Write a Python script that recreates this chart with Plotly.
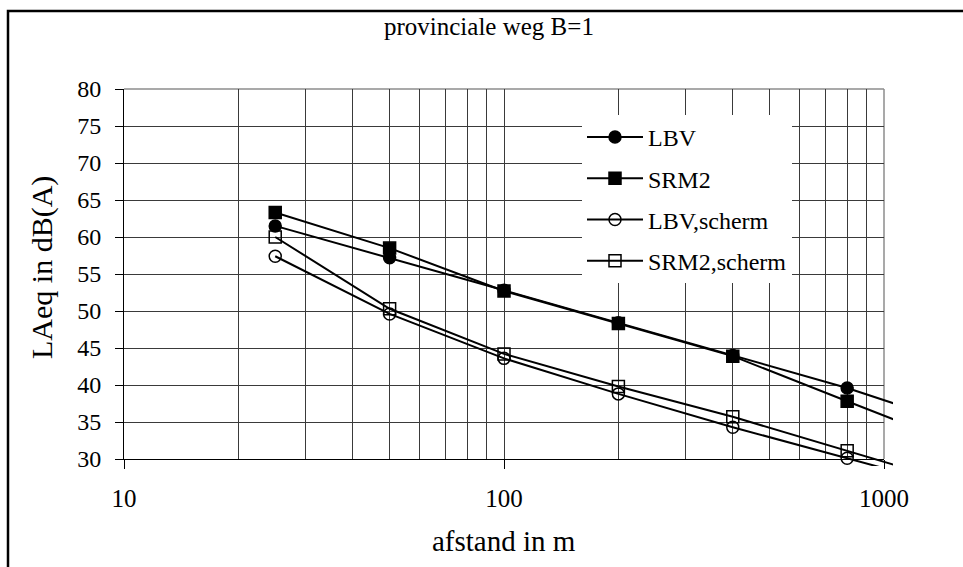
import plotly.graph_objects as go

# ---- data ----
afstand = [25, 50, 100, 200, 400, 800, 1600]
lbv = [61.5, 57.2, 52.8, 48.4, 44.0, 39.6, 34.5]
srm2 = [63.3, 58.5, 52.7, 48.3, 43.9, 37.8, 31.8]
lbv_scherm = [57.4, 49.6, 43.6, 38.8, 34.3, 30.1, 25.9]
srm2_scherm = [60.0, 50.3, 44.2, 39.8, 35.7, 31.1, 26.5]

series_names = ["LBV", "SRM2", "LBV,scherm", "SRM2,scherm"]
series_values = [lbv, srm2, lbv_scherm, srm2_scherm]
series_symbols = ["circle", "square", "circle-open", "square-open"]

y_ticks = [30, 35, 40, 45, 50, 55, 60, 65, 70, 75, 80]
x_ticks = [10, 100, 1000]
x_minor = [20, 30, 40, 50, 60, 70, 80, 90, 200, 300, 400, 500, 600, 700, 800, 900]

title_text = "provinciale weg B=1"
x_title = "afstand in m"
y_title = "LAeq in dB(A)"

# ---- layout geometry (pixels) ----
W, H = 963, 567
PL, PR, PT, PB = 124, 884, 89, 459      # visible plot frame
CR, CB = 893, 466                       # clipping area for the lines (slightly larger)
ML, MR, MT, MB = PL, W - CR, PT, H - CB
pw, ph = CR - ML, CB - MT

px_per_dec = (PR - PL) / 2.0
px_per_db = (PB - PT) / 50.0

FONT = "Liberation Serif"

fig = go.Figure()
# empty trace so that the framed (grid) subplot gets drawn
fig.add_trace(go.Scatter(x=[], y=[], xaxis="x", yaxis="y", showlegend=False,
                         hoverinfo="skip"))
for name, vals, sym in zip(series_names, series_values, series_symbols):
    fig.add_trace(go.Scatter(
        x=afstand, y=vals, name=name, mode="lines+markers",
        xaxis="x2", yaxis="y2", legendgroup=name,
        line=dict(color="black", width=2),
        marker=dict(symbol=sym, size=12, color="black",
                    line=dict(color="black", width=1.5)),
    ))

fig.update_layout(
    width=W, height=H,
    margin=dict(l=ML, r=MR, t=MT, b=MB, autoexpand=False),
    paper_bgcolor="white", plot_bgcolor="rgba(0,0,0,0)",
    font=dict(family=FONT, size=22, color="black"),
    showlegend=True,
    legend=dict(
        x=(582 - ML) / pw, y=(CB - 115) / ph, xanchor="left", yanchor="top",
        bgcolor="white", borderwidth=0, font=dict(family=FONT, size=24),
        tracegroupgap=7, itemwidth=56,
    ),
    xaxis=dict(
        type="log", range=[1, 3], domain=[0, (PR - ML) / pw], anchor="y",
        tickmode="array", tickvals=x_ticks, ticktext=[str(v) for v in x_ticks],
        ticks="outside", ticklen=9, tickcolor="black", tickwidth=1,
        showline=True, linecolor="black", linewidth=1,
        showgrid=True, gridcolor="#3a3a3a", gridwidth=1,
        minor=dict(tickmode="array", tickvals=x_minor, showgrid=True,
                   gridcolor="#3a3a3a", gridwidth=1, ticks=""),
        tickfont=dict(family=FONT, size=25), ticklabelstandoff=8,
        zeroline=False, fixedrange=True,
    ),
    yaxis=dict(
        range=[30, 80], domain=[(CB - PB) / ph, 1], anchor="x",
        tickmode="array", tickvals=y_ticks,
        ticks="outside", ticklen=8, tickcolor="black", tickwidth=1,
        showline=True, linecolor="black", linewidth=1,
        showgrid=True, gridcolor="#3a3a3a", gridwidth=1,
        tickfont=dict(family=FONT, size=24), ticklabelstandoff=9,
        zeroline=False, fixedrange=True,
    ),
    xaxis2=dict(
        type="log", range=[1, 1 + (CR - PL) / px_per_dec], domain=[0, 1],
        anchor="y2", visible=False, fixedrange=True,
    ),
    yaxis2=dict(
        range=[80 - (CB - PT) / px_per_db, 80], domain=[0, 1],
        anchor="x2", visible=False, fixedrange=True,
    ),
    annotations=[
        dict(text=title_text, xref="paper", yref="paper",
             x=(489 - ML) / pw, y=(CB - 27) / ph, xanchor="center", yanchor="middle",
             showarrow=False, font=dict(family=FONT, size=25)),
        dict(text=x_title, xref="paper", yref="paper",
             x=(504 - ML) / pw, y=(CB - 541) / ph, xanchor="center", yanchor="middle",
             showarrow=False, font=dict(family=FONT, size=29)),
        dict(text=y_title, xref="paper", yref="paper", textangle=-90,
             x=(42 - ML) / pw, y=(CB - 268) / ph, xanchor="center", yanchor="middle",
             showarrow=False, font=dict(family=FONT, size=30)),
    ],
    shapes=[
        # gray top and right borders of the plot frame
        dict(type="line", xref="x domain", yref="y domain", x0=0, x1=1, y0=1, y1=1,
             line=dict(color="#8c8c8c", width=1.5), layer="below"),
        dict(type="line", xref="x domain", yref="y domain", x0=1, x1=1, y0=0, y1=1,
             line=dict(color="#8c8c8c", width=1.5), layer="below"),
        # outer chart frame
        dict(type="rect", xref="paper", yref="paper",
             x0=(8 - ML) / pw, x1=(W + 40 - ML) / pw,
             y0=(CB - (H + 40)) / ph, y1=(CB - 11) / ph,
             line=dict(color="black", width=2.5), fillcolor="rgba(0,0,0,0)"),
    ],
)

fig.write_html("out.html")
